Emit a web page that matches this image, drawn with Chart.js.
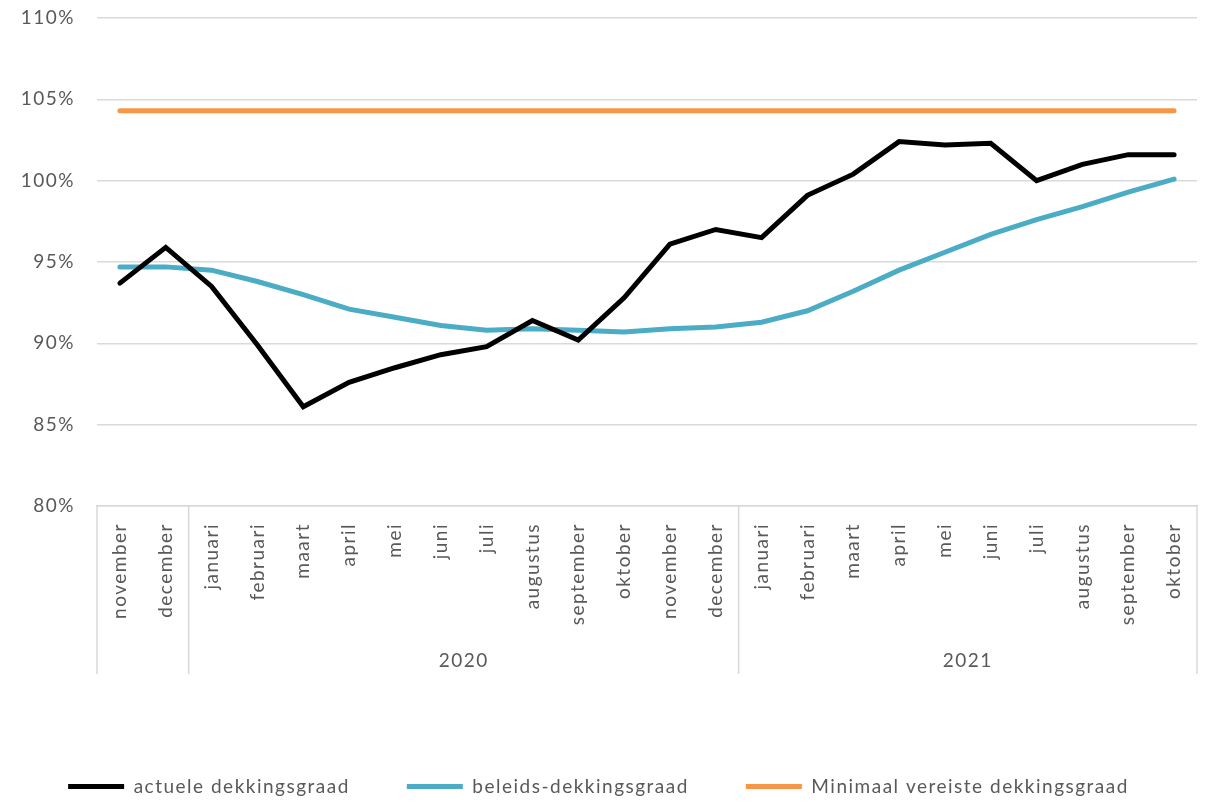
<!DOCTYPE html>
<html><head><meta charset="utf-8">
<script src="https://cdn.jsdelivr.net/npm/chart.js@4.4.0/dist/chart.umd.min.js"></script>
<style>html,body{margin:0;padding:0;background:#fff;}canvas{display:block;}</style>
</head><body>
<canvas id="c" width="1206" height="802"></canvas>
<script>
const months = ['november','december','januari','februari','maart','april','mei','juni','juli','augustus','september','oktober','november','december','januari','februari','maart','april','mei','juni','juli','augustus','september','oktober'];
const groupLabels = ['', '2020', '2021'];
const groupSizes = [2, 12, 10];
const actueel = [93.7, 95.9, 93.5, 89.9, 86.1, 87.6, 88.5, 89.3, 89.8, 91.4, 90.2, 92.8, 96.1, 97.0, 96.5, 99.1, 100.4, 102.4, 102.2, 102.3, 100.0, 101.0, 101.6, 101.6];
const beleids = [94.7, 94.7, 94.5, 93.8, 93.0, 92.1, 91.6, 91.1, 90.8, 90.9, 90.8, 90.7, 90.9, 91.0, 91.3, 92.0, 93.2, 94.5, 95.6, 96.7, 97.6, 98.4, 99.3, 100.1];
const minimaal = [104.3, 104.3, 104.3, 104.3, 104.3, 104.3, 104.3, 104.3, 104.3, 104.3, 104.3, 104.3, 104.3, 104.3, 104.3, 104.3, 104.3, 104.3, 104.3, 104.3, 104.3, 104.3, 104.3, 104.3];
const yMin = 80, yMax = 110, yStep = 5;
const seriesNames = ['actuele dekkingsgraad', 'beleids-dekkingsgraad', 'Minimaal vereiste dekkingsgraad'];

const FONT = 'Lato';
const TXT = '#595959';
const GRID = '#d9d9d9';
const SPACING = '1.5px';

const spacingPlugin = {
  id: 'spacing',
  beforeLayout(chart) { chart.ctx.letterSpacing = SPACING; },
  beforeDraw(chart) { chart.ctx.letterSpacing = SPACING; }
};

const groupPlugin = {
  id: 'groups',
  afterDraw(chart) {
    const xs = chart.scales.x, ctx = chart.ctx;
    const top = chart.chartArea.bottom, bottom = top + 168;
    const half = (xs.getPixelForValue(1) - xs.getPixelForValue(0)) / 2;
    ctx.save();
    ctx.letterSpacing = SPACING;
    ctx.strokeStyle = GRID; ctx.lineWidth = 1.5;
    ctx.fillStyle = TXT; ctx.font = '19px ' + FONT;
    ctx.textAlign = 'center'; ctx.textBaseline = 'middle';
    let start = 0;
    const edge = i => i < months.length ? xs.getPixelForValue(i) - half : xs.getPixelForValue(months.length - 1) + half;
    ctx.beginPath(); ctx.moveTo(edge(0), top); ctx.lineTo(edge(0), bottom); ctx.stroke();
    groupSizes.forEach((n, g) => {
      const a = edge(start), b = edge(start + n);
      ctx.beginPath(); ctx.moveTo(b, top); ctx.lineTo(b, bottom); ctx.stroke();
      if (groupLabels[g]) ctx.fillText(groupLabels[g], (a + b) / 2, top + 155);
      start += n;
    });
    ctx.restore();
  }
};

new Chart(document.getElementById('c'), {
  type: 'line',
  data: {
    labels: months,
    datasets: [
      { label: seriesNames[0], data: actueel, borderColor: '#000000', backgroundColor: '#000000', borderWidth: 5, pointRadius: 0, borderCapStyle: 'round', tension: 0 },
      { label: seriesNames[1], data: beleids, borderColor: '#4bacc6', backgroundColor: '#4bacc6', borderWidth: 5, pointRadius: 0, borderCapStyle: 'round', tension: 0 },
      { label: seriesNames[2], data: minimaal, borderColor: '#f79646', backgroundColor: '#f79646', borderWidth: 5, pointRadius: 0, borderCapStyle: 'round', tension: 0 }
    ]
  },
  options: {
    responsive: false,
    animation: false,
    devicePixelRatio: 1,
    layout: { padding: { left: 0, right: 9, top: 18, bottom: -4 } },
    plugins: {
      tooltip: { enabled: false },
      legend: {
        position: 'bottom',
        labels: {
          usePointStyle: true, pointStyle: 'line', pointStyleWidth: 56,
          padding: 57, color: TXT, font: { family: FONT, size: 19 }
        }
      }
    },
    scales: {
      x: {
        offset: true,
        grid: { display: false, drawTicks: false, offset: true },
        border: { display: true, color: GRID, width: 1.5 },
        ticks: { color: TXT, font: { family: FONT, size: 19 }, maxRotation: 90, minRotation: 90, autoSkip: false, padding: 17 },
        afterFit(s) { s.height = 214; s.paddingLeft = 0; s.paddingRight = 0; }
      },
      y: {
        min: yMin, max: yMax,
        grid: { color: GRID, lineWidth: 1.5, drawTicks: false },
        border: { display: false },
        ticks: { stepSize: yStep, color: TXT, font: { family: FONT, size: 19 }, padding: 22, callback: v => v + '%' },
        afterFit(s) { s.width = 97; s.paddingTop = 0; s.paddingBottom = 0; }
      }
    }
  },
  plugins: [spacingPlugin, groupPlugin]
});
</script>
</body></html>
